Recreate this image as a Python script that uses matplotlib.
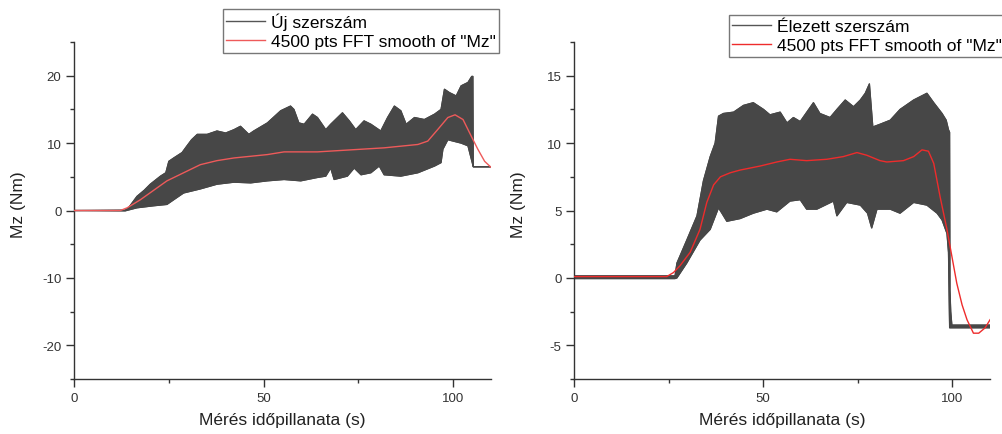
import numpy as np
import matplotlib
matplotlib.use("Agg")
import matplotlib.pyplot as plt
from matplotlib.ticker import MultipleLocator

plt.rcParams['font.family'] = ['Liberation Sans', 'DejaVu Sans']
plt.rcParams['axes.unicode_minus'] = False

# bal oldali ábra: új szerszám (burkológörbék + FFT simítás)
uj_felso_x = [0, 13.5, 14.5, 16.6, 18.5, 20.1, 22.8, 24.2, 25, 26.3, 28.5, 29.8, 31, 32.5, 35.1, 37.7, 40,
              42.2, 43.9, 46.1, 47.4, 51, 54.5, 57.1, 58, 59.3, 60.7, 62.9, 64.2, 66.4, 67.7, 70.8,
              72.6, 74.3, 76.5, 78.3, 80.9, 82.7, 84.5, 86.2, 87.6, 89.8, 92.4, 95.1, 96.8, 97.7, 99,
              100.8, 102.1, 103.9, 104.9, 105.2, 105.3, 110]
uj_felso_y = [0, 0.05, 0.5, 2.1, 3.0, 3.9, 5.1, 5.6, 7.3, 7.8, 8.6, 9.6, 10.5, 11.3, 11.3, 11.8, 11.5,
              12, 12.5, 11.3, 11.8, 13, 14.8, 15.5, 15, 13, 12.8, 14.3, 13.8, 12, 12.8, 14.5,
              13.3, 12, 13.3, 12.8, 11.8, 13.8, 15.5, 14.8, 12.8, 13.8, 13.5, 14.3, 15, 18, 17.5,
              17, 18.5, 19, 19.9, 19.9, 6.5, 6.5]
uj_also_x = [0, 13.5, 16.6, 21, 24.5, 26.3, 28.9, 33.3, 37.7, 42.2, 46.6, 51, 55.4, 59.8, 64.2, 66.4,
             67.7, 68.6, 72.1, 73.9, 75.7, 78.3, 80.5, 81.8, 86.2, 90.7, 95.1, 96.8, 97.3, 98.6,
             102.1, 103.9, 104.8, 105.3, 110]
uj_also_y = [0, -0.05, 0.4, 0.7, 0.9, 1.6, 2.6, 3.2, 3.9, 4.2, 4.1, 4.4, 4.6, 4.4, 4.9, 5.1,
             6.3, 4.6, 5.1, 6.3, 5.3, 5.6, 6.6, 5.3, 5.1, 5.6, 6.6, 7.1, 9.1, 10.5,
             10.0, 9.6, 7.6, 6.5, 6.5]
uj_sima_x = [0, 12.2, 14, 17.5, 21, 24.5, 28.9, 33.3, 37.7, 42.2, 51, 55.4, 64.2, 73, 81.8, 90.7,
             93.3, 95.9, 98.6, 100.5, 102.6, 104.8, 106.5, 108.3, 110]
uj_sima_y = [0, 0, 0.4, 1.6, 3.0, 4.4, 5.6, 6.8, 7.4, 7.8, 8.3, 8.7, 8.7, 9.0, 9.3, 9.8,
             10.3, 12, 13.8, 14.2, 13.5, 11, 9.1, 7.3, 6.4]

# jobb oldali ábra: élezett szerszám
el_felso_x = [0, 26.7, 27.2, 29.8, 32.5, 34.2, 36, 37.3, 38.2, 39.5, 42.2, 44.8, 47.4, 50.1, 51.8,
              54.5, 56.3, 58, 59.8, 63.3, 65, 67.7, 69.5, 71.7, 73.9, 75.7, 77, 78.1, 79, 80.9,
              83.6, 86.2, 89.8, 93.3, 95.1, 97.3, 98.4, 99, 99.3, 99.4, 99.6, 99.9, 110]
el_felso_y = [0.15, 0.15, 1.1, 2.8, 4.6, 7.2, 9, 10, 12, 12.2, 12.3, 12.8, 13, 12.5, 12.1,
              12.3, 11.5, 11.9, 11.6, 13, 12.2, 11.9, 12.5, 13.2, 12.7, 13.2, 13.7, 14.4, 11.2, 11.4,
              11.7, 12.5, 13.2, 13.7, 13, 12.2, 11.7, 11, 10.8, -0.9, -2.5, -3.5, -3.5]
el_also_x = [0, 26.7, 27.2, 29.8, 33.3, 36, 38.2, 39.1, 40.4, 43.9, 47.4, 51, 53.6, 57.1, 59.8, 61.5,
             64.2, 68.6, 69.5, 72.1, 75.7, 77.6, 78.7, 80.1, 83.6, 86.2, 89.8, 93.3, 96, 97.3, 98.6,
             99, 99.3, 110]
el_also_y = [-0.05, -0.05, 0, 1.1, 2.8, 3.6, 5.2, 4.8, 4.2, 4.4, 4.8, 5.1, 4.9, 5.7, 5.8, 5.1,
             5.1, 5.7, 4.6, 5.6, 5.4, 4.8, 3.7, 5.1, 5.1, 4.8, 5.6, 5.4, 4.8, 4.3, 3.3,
             1.9, -3.7, -3.7]
el_sima_x = [0, 24.5, 26.3, 28, 30.7, 33.3, 35.1, 36.9, 38.7, 41.3, 43.9, 49.2, 53.6, 57.1, 61.5,
             66.8, 71.2, 74.8, 77.4, 80.9, 82.7, 87.1, 89.8, 92, 93.7, 95.1, 96.8, 98.6, 99.9,
             101.2, 102.6, 103.9, 105.6, 107, 108.7, 110]
el_sima_y = [0.1, 0.1, 0.4, 0.9, 1.9, 3.6, 5.6, 6.9, 7.5, 7.8, 8.0, 8.3, 8.6, 8.8, 8.7,
             8.8, 9.0, 9.3, 9.1, 8.7, 8.6, 8.7, 9.0, 9.5, 9.4, 8.5, 6.0, 3.6, 1.6,
             -0.4, -2.0, -3.1, -4.1, -4.1, -3.7, -3.1]

panels = [
    dict(fx=uj_felso_x, fy=uj_felso_y, ax_=uj_also_x, ay=uj_also_y, sx=uj_sima_x, sy=uj_sima_y,
         label='Új szerszám', ylim=(-25, 25), major=10, minor=5, red='#ee5a5a',
         pos=[0.0739, 0.1264, 0.4162, 0.7747], leg=dict(loc='upper right', bbox_to_anchor=(0.498, 0.977))),
    dict(fx=el_felso_x, fy=el_felso_y, ax_=el_also_x, ay=el_also_y, sx=el_sima_x, sy=el_sima_y,
         label='Élezett szerszám', ylim=(-7.5, 17.5), major=5, minor=2.5, red='#ee2c2c',
         pos=[0.5729, 0.1264, 0.4152, 0.7747], leg=dict(loc='upper left', bbox_to_anchor=(0.7275, 0.963))),
]

fig = plt.figure(figsize=(10.02, 4.35), dpi=100)
gray = '#474747'

for p in panels:
    ax = fig.add_axes(p['pos'])
    xs = np.concatenate([p['fx'], p['ax_'][::-1]])
    ys = np.concatenate([p['fy'], p['ay'][::-1]])
    ax.fill(xs, ys, color=gray, lw=0.8, zorder=2)
    ax.plot(p['fx'], p['fy'], color=gray, lw=0.9, zorder=2)
    ax.plot(p['ax_'], p['ay'], color=gray, lw=0.9, zorder=2)
    ax.plot(p['sx'], p['sy'], color=p['red'], lw=1.0, zorder=3)

    ax.set_xlim(0, 110)
    ax.set_ylim(*p['ylim'])
    ax.xaxis.set_major_locator(MultipleLocator(50))
    ax.xaxis.set_minor_locator(MultipleLocator(25))
    ax.yaxis.set_major_locator(MultipleLocator(p['major']))
    ax.yaxis.set_minor_locator(MultipleLocator(p['minor']))
    for s in ['top', 'right']:
        ax.spines[s].set_visible(False)
    for s in ['left', 'bottom']:
        ax.spines[s].set_color('#333333')
        ax.spines[s].set_linewidth(1.0)
    ax.tick_params(which='major', length=6, width=1, color='#333333', labelsize=9.5,
                   labelcolor='#333333', pad=3)
    ax.tick_params(which='minor', length=3, width=1, color='#333333')

    ax.set_xlabel('Mérés időpillanata (s)', fontsize=12.5, color='#222222')
    ax.set_ylabel('Mz (Nm)', fontsize=12.5, color='#222222')
    ax.xaxis.set_label_coords(0.5, -0.098)
    ax.yaxis.set_label_coords(-0.115, 0.52)

    h1, = ax.plot([], [], color='#555555', lw=1.0, label=p['label'])
    h2, = ax.plot([], [], color=p['red'], lw=1.0, label='4500 pts FFT smooth of "Mz"')
    leg = fig.legend(handles=[h1, h2], fontsize=12.5, frameon=True, fancybox=False,
                     edgecolor='#555555', handlelength=2.2, handletextpad=0.35,
                     labelspacing=0.25, borderpad=0.2, borderaxespad=0, **p['leg'])
    leg.get_frame().set_linewidth(1.0)

fig.savefig('out.png', dpi=100)
